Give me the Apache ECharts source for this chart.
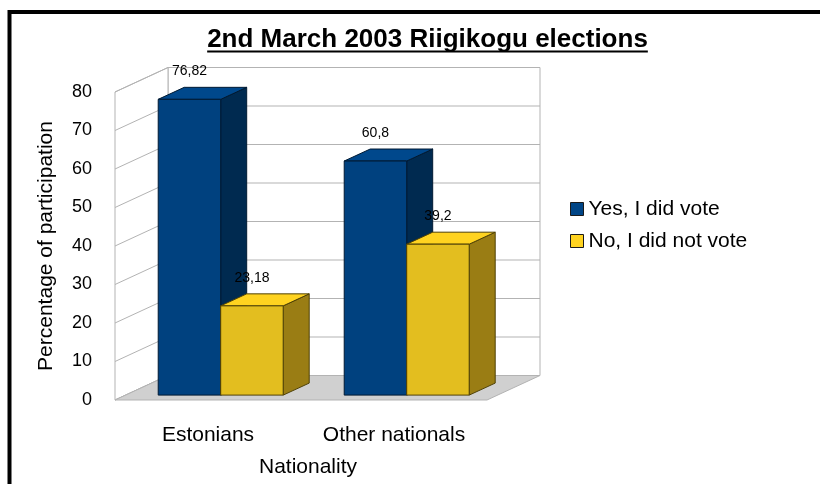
<!DOCTYPE html>
<html>
<head>
<meta charset="utf-8">
<script src="https://cdn.jsdelivr.net/npm/echarts@6/dist/echarts.min.js"></script>
<style>
  html, body { margin: 0; padding: 0; background: #ffffff; }
  #chart { width: 820px; height: 484px; }
</style>
</head>
<body>
<div id="chart"></div>
<script>
// Voter participation by nationality, Riigikogu elections of 2 March 2003
const titleText = '2nd March 2003 Riigikogu elections';
const categories = ['Estonians', 'Other nationals'];
const seriesNames = ['Yes, I did vote', 'No, I did not vote'];
const yesVoted = [76.82, 60.8];
const noVoted = [23.18, 39.2];
const yTicks = [0, 10, 20, 30, 40, 50, 60, 70, 80];
const xAxisName = 'Nationality';
const yAxisName = 'Percentage of participation';

const FONT = '"Liberation Sans", Arial, sans-serif';
const GRID_LINE = '#b3b3b3';
const FLOOR_FILL = '#d0d0d0';

// Oblique projection offsets (pixels) for the box and the bars
const DEPTH = [53, -24.5];      // front edge of the floor -> back wall
const BAR_FRONT = [12.7, -4.9]; // front edge of the floor -> bar front faces
const BAR_DEPTH = [26, -12];    // bar front face -> bar back face
const BAR_FRAC = 0.336;         // bar width as a share of a category band

const palettes = [
  { front: '#00417f', top: '#00488c', side: '#002a50', edge: '#001a33', legend: '#004586' },
  { front: '#e3be1f', top: '#ffd320', side: '#9a7d14', edge: '#4f4105', legend: '#ffd320' }
];

function fmt(v) {
  return String(v).replace('.', ',');
}

// Floor, side wall and back wall with their grid lines
function renderWalls(params, api) {
  const cs = params.coordSys;
  const x0 = cs.x, x1 = cs.x + cs.width;
  const yBase = api.coord([0, yTicks[0]])[1];
  const yTop = api.coord([0, yTicks[yTicks.length - 1]])[1];
  const dx = DEPTH[0], dy = DEPTH[1];
  const children = [];
  children.push({
    type: 'rect',
    shape: { x: x0 + dx, y: yTop + dy, width: x1 - x0, height: yBase - yTop },
    style: { fill: '#ffffff', stroke: GRID_LINE, lineWidth: 1 }
  });
  children.push({
    type: 'polygon',
    shape: { points: [[x0, yBase], [x0, yTop], [x0 + dx, yTop + dy], [x0 + dx, yBase + dy]] },
    style: { fill: '#ffffff', stroke: GRID_LINE, lineWidth: 1 }
  });
  yTicks.forEach(function (v) {
    const y = api.coord([0, v])[1];
    children.push({
      type: 'line',
      shape: { x1: x0 + dx, y1: y + dy, x2: x1 + dx, y2: y + dy },
      style: { stroke: GRID_LINE, lineWidth: 1 }
    });
    children.push({
      type: 'line',
      shape: { x1: x0, y1: y, x2: x0 + dx, y2: y + dy },
      style: { stroke: GRID_LINE, lineWidth: 1 }
    });
  });
  children.push({
    type: 'polygon',
    shape: { points: [[x0, yBase], [x1, yBase], [x1 + dx, yBase + dy], [x0 + dx, yBase + dy]] },
    style: { fill: FLOOR_FILL, stroke: GRID_LINE, lineWidth: 1 }
  });
  return { type: 'group', children: children };
}

// One 3D box per data item; slot 0 sits left of the band centre, slot 1 right of it
function makeBarRenderer(slot) {
  const pal = palettes[slot];
  return function (params, api) {
    const cat = api.value(0);
    const val = api.value(1);
    const topPt = api.coord([cat, val]);
    const basePt = api.coord([cat, 0]);
    const band = api.size([1, 0])[0];
    const w = band * BAR_FRAC;
    const xl = topPt[0] + (slot === 0 ? -w : 0) + BAR_FRONT[0];
    const xr = xl + w;
    const yt = topPt[1] + BAR_FRONT[1];
    const yb = basePt[1] + BAR_FRONT[1];
    const ddx = BAR_DEPTH[0], ddy = BAR_DEPTH[1];
    const edge = { stroke: pal.edge, lineWidth: 1 };
    return {
      type: 'group',
      children: [
        {
          type: 'polygon',
          shape: { points: [[xr, yt], [xr + ddx, yt + ddy], [xr + ddx, yb + ddy], [xr, yb]] },
          style: Object.assign({ fill: pal.side }, edge)
        },
        {
          type: 'polygon',
          shape: { points: [[xl, yt], [xr, yt], [xr + ddx, yt + ddy], [xl + ddx, yt + ddy]] },
          style: Object.assign({ fill: pal.top }, edge)
        },
        {
          type: 'rect',
          shape: { x: xl, y: yt, width: w, height: yb - yt },
          style: Object.assign({ fill: pal.front }, edge)
        },
        {
          type: 'text',
          x: (xl + xr) / 2,
          y: yt - 28,
          style: {
            text: fmt(val),
            fill: '#000000',
            font: '14px ' + FONT,
            textAlign: 'center',
            textVerticalAlign: 'middle'
          }
        }
      ]
    };
  };
}

// Title width for the underline
const measureCtx = document.createElement('canvas').getContext('2d');
measureCtx.font = 'bold 26px ' + FONT;
const titleWidth = measureCtx.measureText(titleText).width;
const titleCenter = 427.5;

const chart = echarts.init(document.getElementById('chart'), null, { renderer: 'canvas' });

chart.setOption({
  backgroundColor: '#ffffff',
  animation: false,
  textStyle: { fontFamily: FONT },
  graphic: [
    {
      type: 'rect',
      shape: { x: 9.5, y: 12, width: 900, height: 600 },
      style: { fill: 'none', stroke: '#000000', lineWidth: 4 },
      silent: true
    },
    {
      type: 'text',
      x: titleCenter,
      y: 27,
      style: {
        text: titleText,
        font: 'bold 26px ' + FONT,
        fill: '#000000',
        textAlign: 'center',
        textVerticalAlign: 'top'
      }
    },
    {
      type: 'rect',
      shape: { x: titleCenter - titleWidth / 2, y: 50.5, width: titleWidth, height: 2 },
      style: { fill: '#000000' }
    }
  ],
  legend: {
    data: seriesNames,
    orient: 'vertical',
    left: 570,
    top: 198.5,
    padding: 0,
    itemGap: 11,
    itemWidth: 13,
    itemHeight: 13,
    icon: 'rect',
    itemStyle: { borderColor: '#1a1a1a', borderWidth: 1 },
    textStyle: { fontSize: 21, color: '#000000', fontFamily: FONT }
  },
  grid: { left: 115, right: 333, top: 92, bottom: 84, containLabel: false },
  xAxis: {
    type: 'category',
    data: categories,
    axisLine: { show: false },
    axisTick: { show: false },
    axisLabel: { fontSize: 21, color: '#000000', margin: 25 },
    name: xAxisName,
    nameLocation: 'middle',
    nameGap: 57,
    nameTextStyle: { fontSize: 21, color: '#000000', padding: [0, 0, 0, 14] }
  },
  yAxis: {
    type: 'value',
    min: 0,
    max: 80,
    interval: 10,
    axisLine: { show: false },
    axisTick: { show: false },
    splitLine: { show: false },
    axisLabel: { fontSize: 18, color: '#000000', margin: 23 },
    name: yAxisName,
    nameLocation: 'middle',
    nameRotate: 90,
    nameGap: 58,
    nameTextStyle: { fontSize: 21, color: '#000000' }
  },
  series: [
    {
      name: 'walls',
      type: 'custom',
      silent: true,
      z: 1,
      renderItem: renderWalls,
      data: [[0, 0]]
    },
    {
      name: seriesNames[0],
      type: 'custom',
      z: 2,
      itemStyle: { color: palettes[0].legend },
      renderItem: makeBarRenderer(0),
      data: categories.map(function (c, i) { return [i, yesVoted[i]]; })
    },
    {
      name: seriesNames[1],
      type: 'custom',
      z: 2,
      itemStyle: { color: palettes[1].legend },
      renderItem: makeBarRenderer(1),
      data: categories.map(function (c, i) { return [i, noVoted[i]]; })
    }
  ]
});
</script>
</body>
</html>
